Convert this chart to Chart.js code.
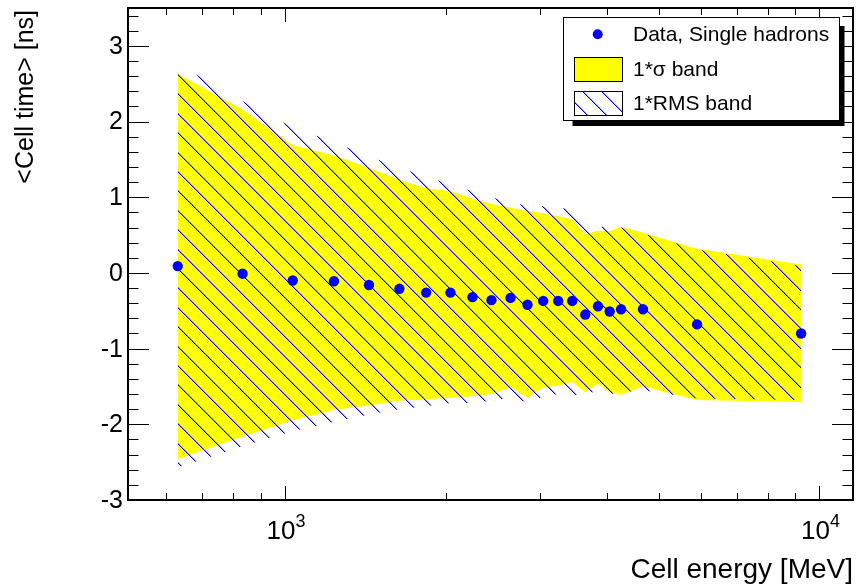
<!DOCTYPE html>
<html>
<head>
<meta charset="utf-8">
<script src="https://cdn.jsdelivr.net/npm/chart.js@4.4.1/dist/chart.umd.min.js"></script>
<style>
html, body { margin: 0; padding: 0; background: #fff; }
#wrap { width: 859px; height: 586px; }
</style>
</head>
<body>
<div id="wrap"><canvas id="cellTimeChart" width="859" height="586"></canvas></div>
<script>
// 셀 에너지 [MeV] 별 평균 셀 시간 [ns]
const cellEnergy = [630, 833, 1034, 1235, 1436, 1637, 1837, 2040, 2243, 2434, 2642, 2843, 3042, 3245, 3447, 3646, 3851, 4050, 4254, 4675, 5902, 9240];
const meanTime = [0.09, -0.01, -0.10, -0.11, -0.16, -0.21, -0.26, -0.26, -0.32, -0.36, -0.33, -0.42, -0.37, -0.37, -0.37, -0.55, -0.44, -0.51, -0.48, -0.48, -0.68, -0.80];

// 1*sigma 밴드 (노란색)
const sigmaUpper = [2.63, 2.16, 1.69, 1.55, 1.39, 1.23, 1.12, 1.08, 0.98, 0.91, 0.86, 0.82, 0.79, 0.75, 0.71, 0.51, 0.56, 0.55, 0.61, 0.53, 0.32, 0.11];
const sigmaLower = [-2.46, -2.16, -1.95, -1.81, -1.75, -1.69, -1.67, -1.65, -1.63, -1.60, -1.51, -1.65, -1.51, -1.49, -1.44, -1.58, -1.46, -1.58, -1.61, -1.50, -1.68, -1.71];

// 1*RMS 밴드 (빗금)
const rmsUpper = [2.76, 2.27, 1.92, 1.73, 1.54, 1.39, 1.27, 1.17, 1.08, 1.00, 0.93, 0.89, 0.88, 0.86, 0.84, 0.58, 0.61, 0.61, 0.60, 0.52, 0.31, 0.09];
const rmsLower = [-2.57, -2.29, -2.09, -1.97, -1.87, -1.80, -1.76, -1.72, -1.72, -1.69, -1.65, -1.71, -1.64, -1.60, -1.62, -1.60, -1.56, -1.60, -1.58, -1.55, -1.66, -1.68];

// 축 눈금
const xMajorTicks = [1000, 10000];
const xMajorExponents = ['3', '4'];
const xMinorTicks = [600, 700, 800, 900, 2000, 3000, 4000, 5000, 6000, 7000, 8000, 9000];
const yMajorTicks = [-3, -2, -1, 0, 1, 2, 3];
const yTickLabels = ['-3', '-2', '-1', '0', '1', '2', '3'];

const legendLabels = ['Data, Single hadrons', '1*\u03c3 band', '1*RMS band'];

const FONT = '"Liberation Sans", Arial, Helvetica, sans-serif';
const BLUE = '#0000ff';
const YELLOW = '#ffff00';

// 빗금 패턴 (97px 타일에 5개 선 -> 간격 약 19.4px)
function makeHatchPattern(ctx) {
    const size = 97;
    const offsets = [0, 19, 39, 58, 78];
    const tile = document.createElement('canvas');
    tile.width = size;
    tile.height = size;
    const t = tile.getContext('2d');
    offsets.forEach(o => {
        for (let yy = 0; yy < size; yy++) {
            const xx = (yy + o) % size;
            t.fillStyle = BLUE;
            t.fillRect(xx, yy, 1, 1);
            t.fillStyle = 'rgba(0,0,255,0.4)';
            t.fillRect((xx + 1) % size, yy, 1, 1);
        }
    });
    const pattern = ctx.createPattern(tile, 'repeat');
    pattern.setTransform(new DOMMatrix([1, 0, 0, 1, 6, 0]));
    return pattern;
}

function toPoints(ys) {
    return cellEnergy.map((e, i) => ({ x: e, y: ys[i] }));
}

const canvas = document.getElementById('cellTimeChart');
const ctx = canvas.getContext('2d');
const hatch = makeHatchPattern(ctx);

// ROOT 스타일 프레임, 눈금, 라벨, 범례
const rootFramePlugin = {
    id: 'rootFrame',
    afterDraw(chart) {
        const c = chart.ctx;
        const a = chart.chartArea;
        const x = chart.scales.x;
        const y = chart.scales.y;
        c.save();

        // 눈금 (안쪽 방향)
        c.strokeStyle = '#000';
        c.lineWidth = 1;
        c.beginPath();
        yMajorTicks.forEach(v => {
            const py = Math.round(y.getPixelForValue(v)) + 0.5;
            c.moveTo(a.left, py); c.lineTo(a.left + 21, py);
            c.moveTo(a.right, py); c.lineTo(a.right - 21, py);
        });
        for (let i = -15; i <= 17; i++) {
            if (i % 5 === 0) continue;
            const py = Math.round(y.getPixelForValue(i * 0.2)) + 0.5;
            c.moveTo(a.left, py); c.lineTo(a.left + 10.5, py);
            c.moveTo(a.right, py); c.lineTo(a.right - 10.5, py);
        }
        xMajorTicks.forEach(v => {
            const px = Math.round(x.getPixelForValue(v)) + 0.5;
            c.moveTo(px, a.bottom); c.lineTo(px, a.bottom - 14);
            c.moveTo(px, a.top); c.lineTo(px, a.top + 14);
        });
        xMinorTicks.forEach(v => {
            const px = Math.round(x.getPixelForValue(v)) + 0.5;
            c.moveTo(px, a.bottom); c.lineTo(px, a.bottom - 7);
            c.moveTo(px, a.top); c.lineTo(px, a.top + 7);
        });
        c.stroke();

        // 프레임
        c.lineWidth = 2;
        c.strokeRect(a.left, a.top, a.right - a.left, a.bottom - a.top);

        // Y 눈금 라벨
        c.fillStyle = '#000';
        c.font = '25px ' + FONT;
        c.textAlign = 'right';
        c.textBaseline = 'middle';
        yMajorTicks.forEach((v, i) => {
            c.fillText(yTickLabels[i], a.left - 5, y.getPixelForValue(v) + 1);
        });

        // X 눈금 라벨 (10^n)
        c.textBaseline = 'alphabetic';
        c.textAlign = 'left';
        xMajorTicks.forEach((v, i) => {
            const px = x.getPixelForValue(v);
            c.font = '26px ' + FONT;
            const wBase = c.measureText('10').width;
            c.font = '18px ' + FONT;
            const wExp = c.measureText(xMajorExponents[i]).width;
            const left = px - (wBase + wExp) / 2 + 1;
            c.font = '26px ' + FONT;
            c.fillText('10', left, a.bottom + 39);
            c.font = '18px ' + FONT;
            c.fillText(xMajorExponents[i], left + wBase, a.bottom + 27);
        });

        // 축 제목
        c.font = '28px ' + FONT;
        c.textAlign = 'right';
        c.fillText('Cell energy [MeV]', a.right, 578);

        c.save();
        c.translate(33, 10);
        c.rotate(-Math.PI / 2);
        c.font = '25px ' + FONT;
        c.textAlign = 'right';
        c.textBaseline = 'alphabetic';
        c.fillText('<Cell time> [ns]', 0, 0);
        c.restore();

        // 범례
        const lx = 563.5, ly = 17.5, lw = 276, lh = 103;
        c.fillStyle = '#000';
        c.fillRect(572.5, 26, 272, 100);
        c.fillStyle = '#fff';
        c.fillRect(lx, ly, lw, lh);
        c.lineWidth = 1;
        c.strokeStyle = '#000';
        c.strokeRect(lx, ly, lw, lh);

        c.fillStyle = BLUE;
        c.beginPath();
        c.arc(597.7, 34.3, 5, 0, Math.PI * 2);
        c.fill();

        c.fillStyle = YELLOW;
        c.fillRect(574.5, 57.5, 48, 24);
        c.strokeRect(574.5, 57.5, 48, 24);

        c.fillStyle = hatch;
        c.fillRect(574.5, 91.5, 48, 24);
        c.strokeRect(574.5, 91.5, 48, 24);

        c.fillStyle = '#000';
        c.font = '21px ' + FONT;
        c.textAlign = 'left';
        c.textBaseline = 'middle';
        c.fillText(legendLabels[0], 633, 35);
        c.fillText(legendLabels[1], 633, 70);
        c.fillText(legendLabels[2], 633, 104);

        c.restore();
    }
};

const cellTimeChart = new Chart(ctx, {
    type: 'scatter',
    data: {
        datasets: [
            {
                label: legendLabels[0],
                data: toPoints(meanTime),
                backgroundColor: BLUE,
                pointRadius: 5.2,
                pointBorderWidth: 0,
                order: 0
            },
            {
                label: legendLabels[2],
                data: toPoints(rmsUpper),
                showLine: true,
                pointRadius: 0,
                borderWidth: 0,
                borderColor: 'transparent',
                backgroundColor: hatch,
                fill: '+1',
                order: 1
            },
            {
                label: 'rms low',
                data: toPoints(rmsLower),
                showLine: true,
                pointRadius: 0,
                borderWidth: 0,
                borderColor: 'transparent',
                fill: false,
                order: 2
            },
            {
                label: legendLabels[1],
                data: toPoints(sigmaUpper),
                showLine: true,
                pointRadius: 0,
                borderWidth: 0,
                borderColor: 'transparent',
                backgroundColor: YELLOW,
                fill: '+1',
                order: 3
            },
            {
                label: 'sigma low',
                data: toPoints(sigmaLower),
                showLine: true,
                pointRadius: 0,
                borderWidth: 0,
                borderColor: 'transparent',
                fill: false,
                order: 4
            }
        ]
    },
    options: {
        responsive: false,
        animation: false,
        layout: { padding: { left: 128, top: 8, right: 6, bottom: 86 } },
        plugins: {
            legend: { display: false },
            tooltip: { enabled: false }
        },
        scales: {
            x: { type: 'logarithmic', min: 508.5, max: 11554, display: false },
            y: { type: 'linear', min: -3, max: 3.5, display: false }
        }
    },
    plugins: [rootFramePlugin]
});
</script>
</body>
</html>
